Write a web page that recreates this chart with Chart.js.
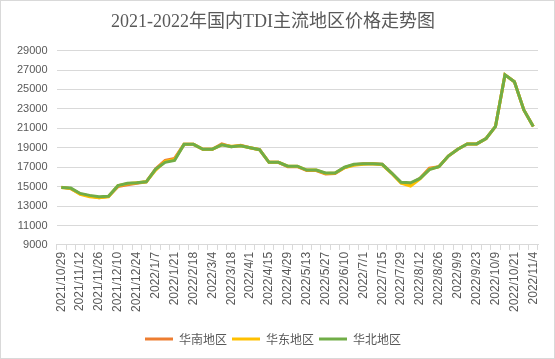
<!DOCTYPE html>
<html>
<head>
<meta charset="utf-8">
<script src="https://cdn.jsdelivr.net/npm/chart.js@4/dist/chart.umd.min.js"></script>
<style>
  html, body { margin: 0; padding: 0; background: #fff; }
  #wrap { width: 555px; height: 359px; }
</style>
</head>
<body>
<div id="wrap"><canvas id="chartCanvas" width="555" height="359"></canvas></div>
<script>
//data
const dates = [
  "2021/10/29", "2021/11/5", "2021/11/12", "2021/11/19", "2021/11/26", "2021/12/3",
  "2021/12/10", "2021/12/17", "2021/12/24", "2021/12/31", "2022/1/7", "2022/1/14",
  "2022/1/21", "2022/2/11", "2022/2/18", "2022/2/25", "2022/3/4", "2022/3/11",
  "2022/3/18", "2022/3/25", "2022/4/1", "2022/4/8", "2022/4/15", "2022/4/22",
  "2022/4/29", "2022/5/6", "2022/5/13", "2022/5/20", "2022/5/27", "2022/6/2",
  "2022/6/10", "2022/6/24", "2022/7/1", "2022/7/8", "2022/7/15", "2022/7/22",
  "2022/7/29", "2022/8/5", "2022/8/12", "2022/8/19", "2022/8/26", "2022/9/2",
  "2022/9/9", "2022/9/16", "2022/9/23", "2022/9/30", "2022/10/9", "2022/10/14",
  "2022/10/21", "2022/10/28", "2022/11/4"
];
const southChina = [
  14950, 14800, 14250, 14050, 13850, 14000, 15000, 15200, 15350, 15500, 16850, 17700,
  17900, 19350, 19350, 18850, 18850, 19400, 19100, 19250, 19000, 18800, 17500, 17500,
  17050, 17050, 16650, 16650, 16300, 16350, 16950, 17250, 17350, 17350, 17300, 16400,
  15400, 15300, 15850, 16900, 17050, 18150, 18850, 19400, 19400, 19950, 21200, 26500,
  25800, 22900, 21200
];
const eastChina = [
  14900, 14800, 14200, 13950, 13850, 13950, 15100, 15300, 15400, 15500, 16700, 17600,
  17800, 19350, 19350, 18850, 18850, 19300, 19150, 19200, 19000, 18800, 17500, 17500,
  17100, 17100, 16700, 16700, 16350, 16400, 16950, 17200, 17300, 17350, 17250, 16350,
  15350, 15050, 15800, 16800, 17050, 18150, 18850, 19400, 19400, 19950, 21200, 26500,
  25800, 22900, 21200
];
const northChina = [
  14900, 14850, 14300, 14100, 13950, 14000, 15100, 15350, 15400, 15500, 16800, 17500,
  17700, 19350, 19350, 18850, 18850, 19300, 19100, 19200, 19000, 18800, 17500, 17500,
  17100, 17100, 16700, 16700, 16400, 16400, 17000, 17300, 17350, 17350, 17300, 16400,
  15450, 15400, 15850, 16750, 17050, 18150, 18850, 19400, 19400, 19950, 21200, 26500,
  25800, 22900, 21200
];
const yTicks = [9000, 11000, 13000, 15000, 17000, 19000, 21000, 23000, 25000, 27000, 29000];

const textColor = "#595959";
const gridColor = "#d9d9d9";

//white background + outer border
const frame = {
  id: "frame",
  beforeDraw(chart) {
    const c = chart.ctx;
    c.save();
    c.fillStyle = "#fff";
    c.fillRect(0, 0, chart.width, chart.height);
    c.strokeStyle = gridColor;
    c.lineWidth = 1;
    c.strokeRect(0.5, 0.5, chart.width - 1, chart.height - 1);
    c.restore();
  },
};

function makeSet(label, values, color, order) {
  return {
    label: label,
    data: values,
    borderColor: color,
    backgroundColor: color,
    borderWidth: 3,
    pointRadius: 0,
    tension: 0,
    fill: false,
    order: order,
  };
}

const chart = new Chart(document.getElementById("chartCanvas"), {
  type: "line",
  data: {
    labels: dates,
    datasets: [
      makeSet("华南地区", southChina, "#ED7D31", 2),
      makeSet("华东地区", eastChina, "#FFC000", 1),
      makeSet("华北地区", northChina, "#70AD47", 0),
    ],
  },
  plugins: [frame],
  options: {
    responsive: false,
    animation: false,
    layout: { padding: { left: 8, right: 17, top: 0, bottom: 4 } },
    plugins: {
      title: {
        display: true,
        text: "2021-2022年国内TDI主流地区价格走势图",
        color: textColor,
        font: { family: "'Liberation Serif', 'Noto Sans CJK SC', serif", size: 18, weight: "normal" },
        padding: { top: 11, bottom: 18 },
      },
      legend: {
        position: "bottom",
        labels: {
          color: textColor,
          font: { family: "'Noto Sans CJK SC', sans-serif", size: 12 },
          boxWidth: 28,
          boxHeight: 3,
          padding: 5,
          sort: (a, b) => a.datasetIndex - b.datasetIndex,
          generateLabels(ch) {
            const items = Chart.defaults.plugins.legend.labels.generateLabels(ch);
            items.forEach((it) => { it.lineWidth = 0; });
            return items;
          },
        },
      },
      tooltip: { enabled: false },
    },
    scales: {
      x: {
        offset: true,
        grid: { display: true, drawOnChartArea: false, offset: true, color: gridColor, tickLength: 5 },
        border: { color: gridColor },
        afterFit: (axis) => { axis.height += 14; },
        ticks: {
          autoSkip: false,
          minRotation: 90,
          maxRotation: 90,
          color: textColor,
          padding: 2,
          font: { family: "'Liberation Sans', sans-serif", size: 12 },
          callback: function (val, i) {
            return i % 2 === 0 ? dates[i] : "";
          },
        },
      },
      y: {
        min: yTicks[0],
        max: yTicks[yTicks.length - 1],
        afterBuildTicks: (axis) => { axis.ticks = yTicks.map((v) => ({ value: v })); },
        grid: { color: gridColor, drawTicks: false },
        border: { display: false },
        ticks: {
          color: textColor,
          padding: 9,
          font: { family: "'Liberation Sans', sans-serif", size: 11 },
          callback: (v) => String(v),
        },
      },
    },
  },
});
</script>
</body>
</html>
